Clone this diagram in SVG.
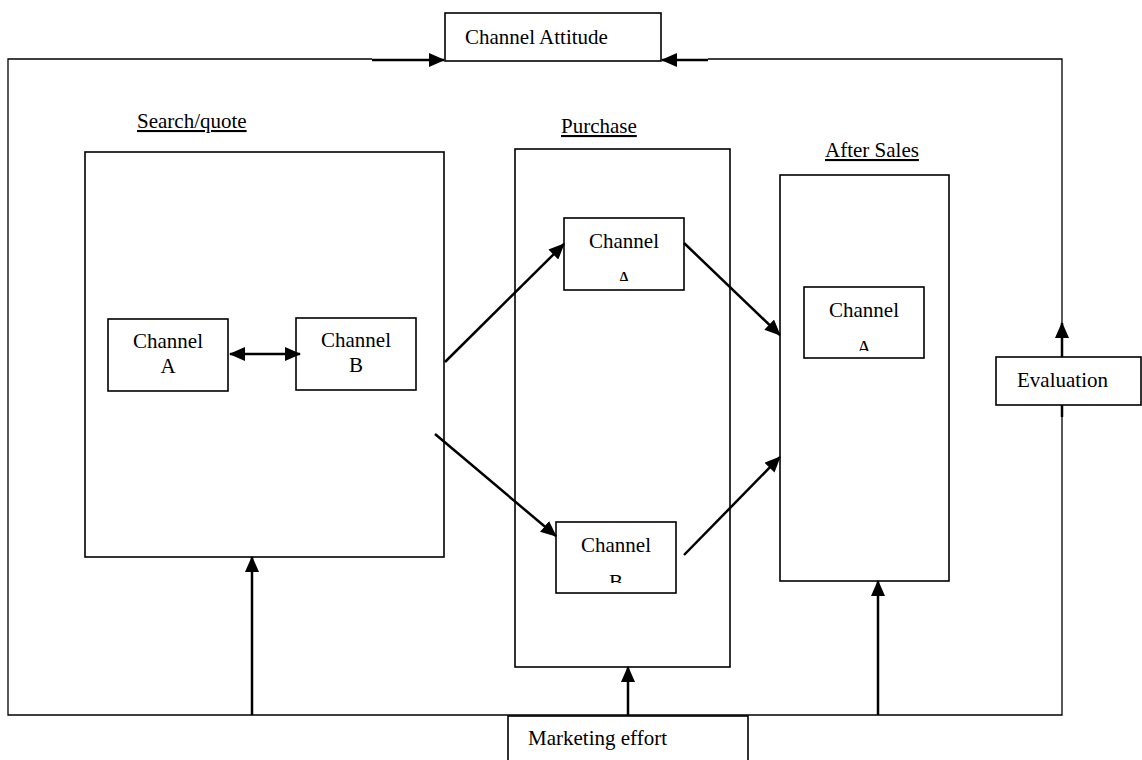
<svg xmlns="http://www.w3.org/2000/svg" width="1142" height="760" viewBox="0 0 1142 760">
<style>
text{font-family:"Liberation Serif","Times New Roman",serif;font-size:21px;fill:#000}
.c{text-anchor:middle}
.u{text-decoration:underline}
.box{fill:#fff;stroke:#000;stroke-width:1.6}
.frame{fill:none;stroke:#000;stroke-width:1.3}
.arr{fill:none;stroke:#000;stroke-width:2.5}
</style>
<defs>
<marker id="ah" markerWidth="16" markerHeight="14" refX="15" refY="7" orient="auto" markerUnits="userSpaceOnUse">
<path d="M0,0 L16,7 L0,14 Z" fill="#000"/>
</marker>
<marker id="as" markerWidth="16" markerHeight="14" refX="1" refY="7" orient="auto" markerUnits="userSpaceOnUse">
<path d="M16,0 L0,7 L16,14 Z" fill="#000"/>
</marker>
<clipPath id="cp1"><rect x="564" y="218" width="120" height="63"/></clipPath>
<clipPath id="cp2"><rect x="556" y="522" width="120" height="61"/></clipPath>
<clipPath id="cp3"><rect x="804" y="287" width="120" height="64"/></clipPath>
</defs>

<g id="frame">
<path class="frame" d="M372,59 L8,59 L8,715 L1062,715 L1062,59 L708,59"/>
</g>

<g id="search">
<rect class="box" x="85" y="152" width="359" height="405"/>
<text x="137" y="128" class="u">Search/quote</text>
</g>
<g id="purchase">
<rect class="box" x="515" y="149" width="215" height="518"/>
<text x="561" y="133" class="u">Purchase</text>
</g>
<g id="aftersales">
<rect class="box" x="780" y="175" width="169" height="406"/>
<text x="825" y="157" class="u">After Sales</text>
</g>

<g id="attitude">
<rect class="box" x="445" y="13" width="216" height="48"/>
<text x="465" y="44">Channel Attitude</text>
</g>
<g id="search-a">
<rect class="box" x="108" y="319" width="120" height="72"/>
<text x="168" y="348" class="c">Channel</text>
<text x="168" y="373" class="c">A</text>
</g>
<g id="search-b">
<rect class="box" x="296" y="318" width="120" height="72"/>
<text x="356" y="347" class="c">Channel</text>
<text x="356" y="372" class="c">B</text>
</g>
<g id="purchase-a">
<rect class="box" x="564" y="218" width="120" height="72"/>
<text x="624" y="248" class="c">Channel</text>
<text x="624" y="286" class="c" clip-path="url(#cp1)">A</text>
</g>
<g id="purchase-b">
<rect class="box" x="556" y="522" width="120" height="71"/>
<text x="616" y="552" class="c">Channel</text>
<text x="616" y="589" class="c" clip-path="url(#cp2)">B</text>
</g>
<g id="after-a">
<rect class="box" x="804" y="287" width="120" height="71"/>
<text x="864" y="317" class="c">Channel</text>
<text x="864" y="355" class="c" clip-path="url(#cp3)">A</text>
</g>
<g id="evaluation">
<rect class="box" x="996" y="357" width="145" height="48"/>
<text x="1017" y="387">Evaluation</text>
</g>
<g id="marketing">
<rect class="box" x="508" y="716" width="240" height="60"/>
<text x="528" y="745">Marketing effort</text>
</g>

<g id="connectors">
<line class="arr" x1="372" y1="60" x2="444" y2="60" marker-end="url(#ah)"/>
<line class="arr" x1="708" y1="60" x2="662" y2="60" marker-end="url(#ah)"/>
<line class="arr" x1="230" y1="354" x2="300" y2="354" marker-start="url(#as)" marker-end="url(#ah)"/>
<line class="arr" x1="445" y1="362" x2="564" y2="244" marker-end="url(#ah)"/>
<line class="arr" x1="435" y1="434" x2="556" y2="536" marker-end="url(#ah)"/>
<line class="arr" x1="684" y1="243" x2="780" y2="335" marker-end="url(#ah)"/>
<line class="arr" x1="684" y1="555" x2="780" y2="457" marker-end="url(#ah)"/>
<line class="arr" x1="252" y1="715" x2="252" y2="557" marker-end="url(#ah)"/>
<line class="arr" x1="628" y1="715" x2="628" y2="667" marker-end="url(#ah)"/>
<line class="arr" x1="878" y1="715" x2="878" y2="581" marker-end="url(#ah)"/>
<line class="arr" x1="1062" y1="357" x2="1062" y2="323" marker-end="url(#ah)"/>
<line class="arr" x1="1062" y1="405" x2="1062" y2="417"/>
</g>
</svg>
